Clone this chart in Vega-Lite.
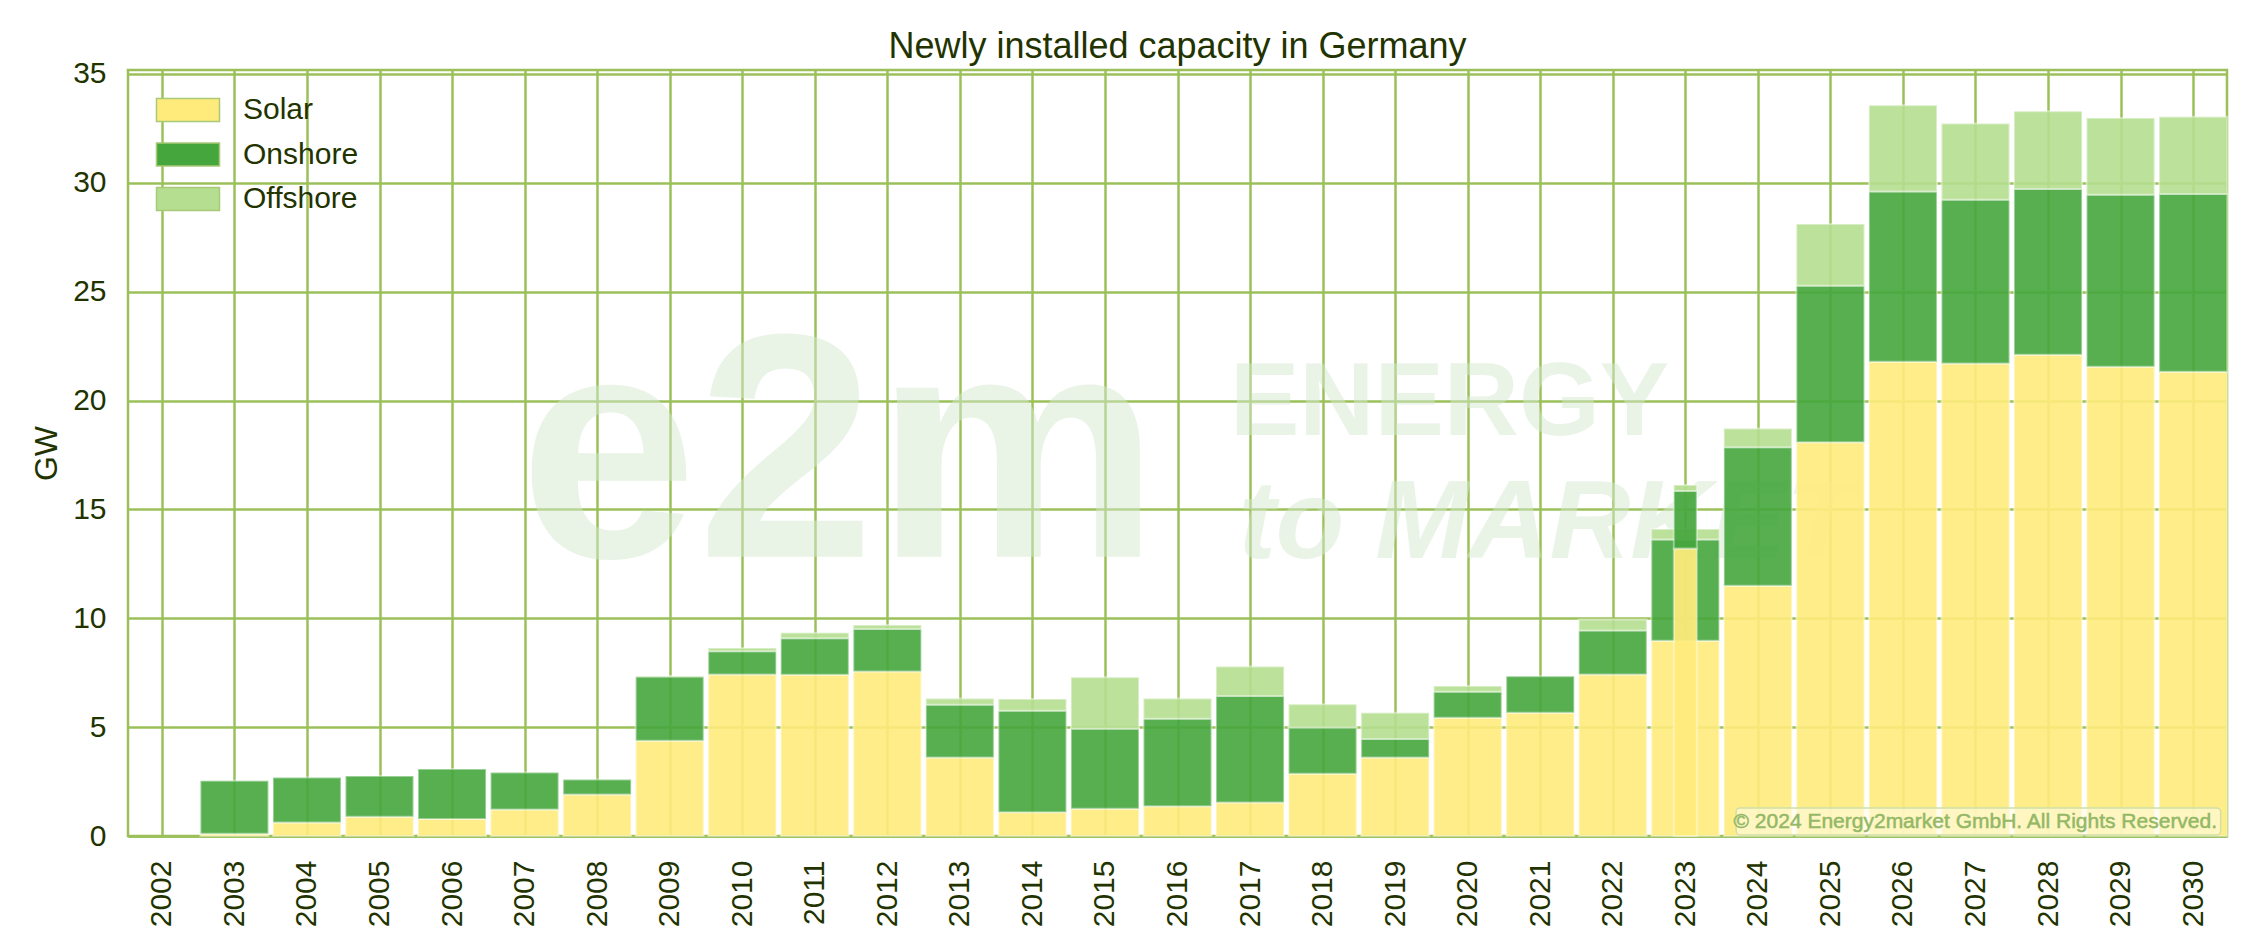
{
  "$schema": "https://vega.github.io/schema/vega-lite/v6.json",
  "width": 2099,
  "height": 766,
  "autosize": {"type": "none"},
  "padding": {"left": 128, "top": 70, "right": 30, "bottom": 109},
  "background": "white",
  "title": {
    "text": "Newly installed capacity in Germany",
    "font": "Liberation Sans",
    "fontSize": 36,
    "fontWeight": "normal",
    "color": "#223300",
    "offset": -7,
    "anchor": "middle",
    "frame": "group"
  },
  "config": {
    "font": "Liberation Sans",
    "view": {"stroke": "#9bc05a", "strokeWidth": 2.5},
    "axis": {
      "gridColor": "#9bc05a",
      "gridWidth": 2.5,
      "gridOpacity": 1,
      "ticks": false,
      "labelFont": "Liberation Sans",
      "labelFontSize": 30,
      "labelColor": "#223300",
      "titleFont": "Liberation Sans",
      "titleColor": "#223300",
      "domainColor": "#9bc05a",
      "domainWidth": 2.5
    },
    "legend": {
      "padding": 0,
      "labelFont": "Liberation Sans",
      "labelFontSize": 30,
      "labelColor": "#223300"
    }
  },
  "datasets": {
    "main": [
      {"year": 2003, "type": "Solar", "gw": 0.1},
      {"year": 2003, "type": "Onshore", "gw": 2.44},
      {"year": 2004, "type": "Solar", "gw": 0.62},
      {"year": 2004, "type": "Onshore", "gw": 2.07},
      {"year": 2005, "type": "Solar", "gw": 0.88},
      {"year": 2005, "type": "Onshore", "gw": 1.87},
      {"year": 2006, "type": "Solar", "gw": 0.78},
      {"year": 2006, "type": "Onshore", "gw": 2.3},
      {"year": 2007, "type": "Solar", "gw": 1.22},
      {"year": 2007, "type": "Onshore", "gw": 1.7},
      {"year": 2008, "type": "Solar", "gw": 1.91},
      {"year": 2008, "type": "Onshore", "gw": 0.69},
      {"year": 2009, "type": "Solar", "gw": 4.38},
      {"year": 2009, "type": "Onshore", "gw": 2.94},
      {"year": 2009, "type": "Offshore", "gw": 0.03},
      {"year": 2010, "type": "Solar", "gw": 7.42},
      {"year": 2010, "type": "Onshore", "gw": 1.06},
      {"year": 2010, "type": "Offshore", "gw": 0.15},
      {"year": 2011, "type": "Solar", "gw": 7.4},
      {"year": 2011, "type": "Onshore", "gw": 1.68},
      {"year": 2011, "type": "Offshore", "gw": 0.26},
      {"year": 2012, "type": "Solar", "gw": 7.55},
      {"year": 2012, "type": "Onshore", "gw": 1.96},
      {"year": 2012, "type": "Offshore", "gw": 0.18},
      {"year": 2013, "type": "Solar", "gw": 3.6},
      {"year": 2013, "type": "Onshore", "gw": 2.43},
      {"year": 2013, "type": "Offshore", "gw": 0.28},
      {"year": 2014, "type": "Solar", "gw": 1.09},
      {"year": 2014, "type": "Onshore", "gw": 4.66},
      {"year": 2014, "type": "Offshore", "gw": 0.54},
      {"year": 2015, "type": "Solar", "gw": 1.25},
      {"year": 2015, "type": "Onshore", "gw": 3.67},
      {"year": 2015, "type": "Offshore", "gw": 2.37},
      {"year": 2016, "type": "Solar", "gw": 1.37},
      {"year": 2016, "type": "Onshore", "gw": 4.01},
      {"year": 2016, "type": "Offshore", "gw": 0.93},
      {"year": 2017, "type": "Solar", "gw": 1.54},
      {"year": 2017, "type": "Onshore", "gw": 4.89},
      {"year": 2017, "type": "Offshore", "gw": 1.35},
      {"year": 2018, "type": "Solar", "gw": 2.86},
      {"year": 2018, "type": "Onshore", "gw": 2.12},
      {"year": 2018, "type": "Offshore", "gw": 1.07},
      {"year": 2019, "type": "Solar", "gw": 3.6},
      {"year": 2019, "type": "Onshore", "gw": 0.85},
      {"year": 2019, "type": "Offshore", "gw": 1.21},
      {"year": 2020, "type": "Solar", "gw": 5.43},
      {"year": 2020, "type": "Onshore", "gw": 1.19},
      {"year": 2020, "type": "Offshore", "gw": 0.27},
      {"year": 2021, "type": "Solar", "gw": 5.66},
      {"year": 2021, "type": "Onshore", "gw": 1.68},
      {"year": 2022, "type": "Solar", "gw": 7.42},
      {"year": 2022, "type": "Onshore", "gw": 2.02},
      {"year": 2022, "type": "Offshore", "gw": 0.5},
      {"year": 2023, "type": "Solar", "gw": 8.97},
      {"year": 2023, "type": "Onshore", "gw": 4.65},
      {"year": 2023, "type": "Offshore", "gw": 0.48},
      {"year": 2024, "type": "Solar", "gw": 11.49},
      {"year": 2024, "type": "Onshore", "gw": 6.36},
      {"year": 2024, "type": "Offshore", "gw": 0.87},
      {"year": 2025, "type": "Solar", "gw": 18.08},
      {"year": 2025, "type": "Onshore", "gw": 7.19},
      {"year": 2025, "type": "Offshore", "gw": 2.84},
      {"year": 2026, "type": "Solar", "gw": 21.78},
      {"year": 2026, "type": "Onshore", "gw": 7.82},
      {"year": 2026, "type": "Offshore", "gw": 3.96},
      {"year": 2027, "type": "Solar", "gw": 21.7},
      {"year": 2027, "type": "Onshore", "gw": 7.52},
      {"year": 2027, "type": "Offshore", "gw": 3.5},
      {"year": 2028, "type": "Solar", "gw": 22.1},
      {"year": 2028, "type": "Onshore", "gw": 7.62},
      {"year": 2028, "type": "Offshore", "gw": 3.57},
      {"year": 2029, "type": "Solar", "gw": 21.55},
      {"year": 2029, "type": "Onshore", "gw": 7.9},
      {"year": 2029, "type": "Offshore", "gw": 3.53},
      {"year": 2030, "type": "Solar", "gw": 21.32},
      {"year": 2030, "type": "Onshore", "gw": 8.17},
      {"year": 2030, "type": "Offshore", "gw": 3.54}
    ],
    "actual2023": [
      {"year": 2023, "type": "Solar", "gw": 13.2},
      {"year": 2023, "type": "Onshore", "gw": 2.65},
      {"year": 2023, "type": "Offshore", "gw": 0.27}
    ]
  },
  "encoding": {
    "x": {
      "field": "year",
      "type": "quantitative",
      "scale": {"domain": [2001.602, 2030.398], "nice": false, "zero": false},
      "axis": {
        "values": [2002, 2003, 2004, 2005, 2006, 2007, 2008, 2009, 2010, 2011, 2012, 2013, 2014, 2015, 2016, 2017, 2018, 2019, 2020, 2021, 2022, 2023, 2024, 2025, 2026, 2027, 2028, 2029, 2030],
        "format": "d",
        "labelAngle": -90,
        "labelPadding": 24,
        "labelFlush": false,
        "labelOverlap": false,
        "labelBound": false,
        "title": null
      }
    },
    "y": {
      "field": "gw",
      "type": "quantitative",
      "scale": {"domain": [0, 35.18], "nice": false},
      "axis": {
        "values": [0, 5, 10, 15, 20, 25, 30, 35],
        "labelPadding": 22,
        "title": "GW",
        "titleFontSize": 32,
        "titleFontWeight": "normal",
        "titlePadding": 9,
        "domain": false
      }
    }
  },
  "layer": [
    {
      "data": {"values": [{"label": "e2m", "year": 2011.34, "gw": 12.82}]},
      "mark": {"type": "text", "fontSize": 320, "fontWeight": "bold", "align": "center", "baseline": "alphabetic", "fill": "#d4e9cf", "opacity": 0.5},
      "encoding": {"text": {"field": "label"}}
    },
    {
      "data": {"values": [{"label": "ENERGY", "year": 2019.75, "gw": 18.42}]},
      "mark": {"type": "text", "fontSize": 104, "fontWeight": "bold", "align": "center", "baseline": "alphabetic", "fill": "#d4e9cf", "opacity": 0.5},
      "encoding": {"text": {"field": "label"}}
    },
    {
      "data": {"values": [{"label": "to MARKET", "year": 2016.84, "gw": 12.77}]},
      "mark": {"type": "text", "fontSize": 112, "fontWeight": "bold", "fontStyle": "italic", "align": "left", "baseline": "alphabetic", "fill": "#d4e9cf", "opacity": 0.5},
      "encoding": {"text": {"field": "label"}}
    },
    {
      "data": {"name": "main"},
      "mark": {"type": "bar", "width": 68, "fillOpacity": 0.9, "stroke": "white", "strokeOpacity": 0.4, "strokeWidth": 2},
      "encoding": {
        "color": {
          "field": "type",
          "type": "nominal",
          "scale": {"domain": ["Solar", "Onshore", "Offshore"], "range": ["#ffeb7c", "#45a63d", "#b5de90"]},
          "legend": {
            "title": null,
            "orient": "none",
            "legendX": 45,
            "legendY": 25,
            "symbolType": "M-2.739,-1H2.739V1H-2.739Z",
            "symbolSize": 529,
            "symbolStrokeColor": "#a9c978",
            "symbolStrokeWidth": 1.5,
            "symbolOpacity": 1,
            "labelOffset": 40,
            "rowPadding": 14.5
          }
        },
        "order": {"field": "type", "sort": "descending"}
      }
    },
    {
      "data": {"name": "actual2023"},
      "mark": {"type": "bar", "width": 23, "fillOpacity": 0.92, "stroke": "white", "strokeOpacity": 0.4, "strokeWidth": 2},
      "encoding": {
        "color": {
          "field": "type",
          "type": "nominal",
          "scale": {"domain": ["Solar", "Onshore", "Offshore"], "range": ["#ffeb7c", "#45a63d", "#b5de90"]},
          "legend": {
            "title": null,
            "orient": "none",
            "legendX": 45,
            "legendY": 25,
            "symbolType": "M-2.739,-1H2.739V1H-2.739Z",
            "symbolSize": 529,
            "symbolStrokeColor": "#a9c978",
            "symbolStrokeWidth": 1.5,
            "symbolOpacity": 1,
            "labelOffset": 40,
            "rowPadding": 14.5
          }
        },
        "order": {"field": "type", "sort": "descending"}
      }
    },
    {
      "data": {"values": [{"year": 2023.7, "year2": 2030.38, "gw": 0.05, "gw2": 1.29}]},
      "mark": {"type": "rect", "fill": "#fffbe8", "fillOpacity": 0.6, "stroke": "#cfe0a8", "strokeWidth": 1.5, "cornerRadius": 4},
      "encoding": {"x2": {"field": "year2"}, "y2": {"field": "gw2"}}
    },
    {
      "data": {"values": [{"label": "© 2024 Energy2market GmbH. All Rights Reserved.", "year": 2030.33, "gw": 0.66}]},
      "mark": {"type": "text", "fontSize": 21, "align": "right", "baseline": "middle", "fill": "#93b866", "stroke": "#93b866", "strokeWidth": 0.5},
      "encoding": {"text": {"field": "label"}}
    }
  ]
}
